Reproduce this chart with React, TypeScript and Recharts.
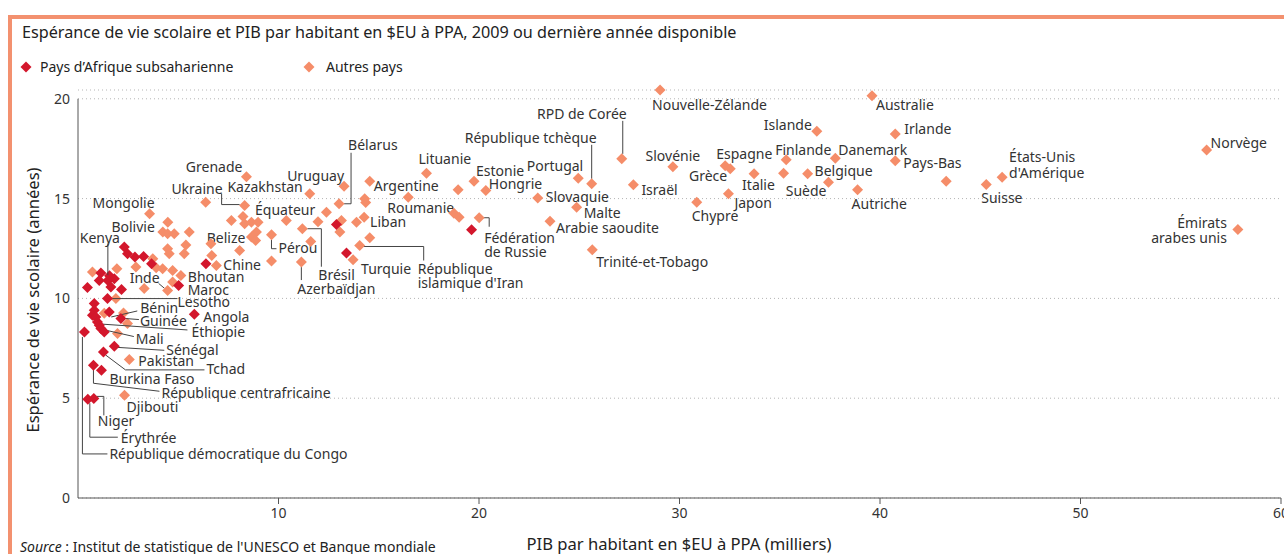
import {
    CartesianGrid,
    ReferenceLine,
    Scatter,
    ScatterChart,
    XAxis,
    YAxis,
} from 'recharts';

const RED = '#d3172c';
const ORANGE = '#f58d69';
const FRAME = '#f3916f';
const INK = '#333333';
const FONT = '"Noto Sans", sans-serif';

// Pays d'Afrique subsaharienne
const africaNames = [
    '', '', '', '', '', '', '', '', '', 'Kenya',
    '', '', '', 'Maroc', '', '', '', '', 'Lesotho', '',
    '', 'Bénin', '', '', 'Guinée', 'Éthiopie', '', 'Mali', '', 'République démocratique du Congo',
    'Sénégal', 'Tchad', 'République centrafricaine', 'Burkina Faso', 'Niger', 'Érythrée', 'Angola',
];
const africaGdp = [
    2.31, 2.47, 2.84, 3.27, 3.67, 1.14, 1.57, 1.81, 1.06, 1.49,
    1.64, 0.47, 2.17, 5.02, 6.38, 12.89, 13.39, 19.63, 1.47, 0.81,
    0.81, 1.56, 0.72, 0.89, 2.14, 0.97, 1.06, 1.14, 1.31, 0.32,
    1.81, 1.27, 0.77, 1.17, 0.79, 0.49, 5.8,
];
const africaSle = [
    12.57, 12.24, 12.07, 12.1, 11.74, 11.27, 11.13, 10.99, 10.9, 10.9,
    10.57, 10.54, 10.44, 10.64, 11.74, 13.7, 12.27, 13.44, 9.99, 9.74,
    9.4, 9.32, 9.15, 9.07, 8.99, 8.82, 8.65, 8.49, 8.32, 8.32,
    7.6, 7.32, 6.65, 6.4, 4.99, 4.95, 9.2,
];

// Autres pays
const otherNames = [
    'Nouvelle-Zélande', 'Australie', 'RPD de Corée', 'République tchèque', 'Portugal',
    'Slovaquie', 'Malte', 'Arabie saoudite', 'Trinité-et-Tobago', 'Israël',
    'Slovénie', 'Espagne', 'Grèce', 'Japon', 'Chypre',
    'Italie', 'Finlande', '', 'Belgique', 'Suède',
    'Danemark', 'Autriche', 'Islande', 'Irlande', 'Pays-Bas',
    '', "États-Unis\nd'Amérique", 'Suisse', 'Norvège', 'Émirats\narabes unis',
    'Lituanie', 'Estonie', 'Hongrie', '', 'Argentine',
    'Roumanie', '', '', 'Fédération\nde Russie', 'Liban',
    "République\nislamique d'Iran", 'Turquie', 'Brésil', 'Azerbaïdjan', 'Pérou',
    '', 'Chine', 'Belize', 'Équateur', 'Grenade',
    'Ukraine', 'Kazakhstan', 'Uruguay', 'Bélarus', 'Bhoutan',
    'Inde', 'Mongolie', 'Bolivie', 'Pakistan', 'Djibouti',
    '', '', '', '', '', '', '', '', '', '',
    '', '', '', '', '', '', '', '', '', '',
    '', '', '', '', '', '', '', '', '', '',
    '', '', '', '', '', '', '', '', '', '',
    '', '',
];
const otherGdp = [
    29.03, 39.6, 27.12, 25.62, 24.95,
    22.93, 24.87, 23.54, 25.65, 27.7,
    29.67, 32.28, 32.53, 32.44, 30.86,
    33.72, 35.32, 35.19, 36.39, 37.43,
    37.77, 38.88, 36.85, 40.76, 40.76,
    43.3, 46.09, 45.3, 56.29, 57.85,
    17.38, 19.75, 20.34, 18.96, 14.55,
    16.47, 18.75, 19.01, 20.01, 14.27,
    14.05, 13.72, 11.19, 11.14, 9.65,
    9.65, 6.9, 8.65, 8.23, 8.4,
    8.31, 11.56, 13.27, 13.02, 5.13,
    4.47, 3.57, 4.23, 2.56, 2.32,
    6.37, 7.65, 8.31, 8.65, 8.98, 8.9, 8.86, 8.06, 6.63, 6.67,
    10.39, 11.97, 11.61, 12.39, 13.14, 13.06, 13.89, 14.3, 14.35, 14.55,
    4.48, 4.47, 4.8, 5.55, 4.47, 4.55, 5.38, 5.3, 1.94, 0.72,
    2.89, 4.22, 4.72, 3.3, 4.72, 1.89, 1.31, 2.27, 2.47, 1.97,
    3.9, 3.73,
];
const otherSle = [
    20.44, 20.15, 16.99, 15.74, 16.02,
    15.03, 14.57, 13.87, 12.44, 15.69,
    16.6, 16.65, 16.49, 15.24, 14.82,
    16.24, 16.95, 16.27, 16.24, 15.82,
    17.02, 15.44, 18.37, 18.24, 16.9,
    15.87, 16.07, 15.7, 17.44, 13.45,
    16.27, 15.87, 15.4, 15.44, 15.87,
    15.07, 14.27, 14.07, 14.04, 14.07,
    12.65, 11.94, 13.49, 11.82, 13.19,
    11.87, 11.65, 13.07, 14.1, 16.1,
    14.65, 15.24, 15.62, 14.74, 11.15,
    10.4, 14.24, 13.32, 6.94, 5.15,
    14.82, 13.9, 13.74, 13.82, 13.82, 13.32, 12.9, 12.4, 12.74, 12.15,
    13.9, 13.84, 12.85, 14.32, 13.9, 13.32, 13.82, 14.99, 14.8, 13.04,
    13.82, 13.24, 13.24, 13.32, 12.49, 12.24, 12.68, 12.24, 11.49, 11.32,
    11.57, 11.49, 11.4, 10.49, 10.82, 9.99, 9.26, 9.27, 8.74, 8.24,
    11.54, 11.99,
];

const xTicks = [10, 20, 30, 40, 50, 60];
const yTicks = [0, 5, 10, 15, 20];

type Place = {
    dx: number;
    dy: number;
    anchor?: 'start' | 'middle' | 'end';
    leader?: number[][];
    gap?: number;
};

// label offsets in pixels, relative to the marker centre
const labelPlaces: Record<string, Place> = {
    'Nouvelle-Zélande': { dx: -8, dy: 14 },
    Australie: { dx: 4, dy: 9 },
    'RPD de Corée': { dx: 5, dy: -45, anchor: 'end', leader: [[1, -38], [1, -5]] },
    'République tchèque': { dx: 5, dy: -46, anchor: 'end', leader: [[0, -39], [0, -5]] },
    Portugal: { dx: 5, dy: -13, anchor: 'end' },
    Slovaquie: { dx: 8, dy: -1 },
    Malte: { dx: 7, dy: 5 },
    'Arabie saoudite': { dx: 6, dy: 6 },
    'Trinité-et-Tobago': { dx: 4, dy: 12 },
    Israël: { dx: 8, dy: 5 },
    Slovénie: { dx: 0, dy: -11, anchor: 'middle' },
    Espagne: { dx: -9, dy: -12 },
    Grèce: { dx: -3, dy: 7, anchor: 'end' },
    Japon: { dx: 6, dy: 9 },
    Chypre: { dx: -5, dy: 13 },
    Italie: { dx: -12, dy: 11 },
    Finlande: { dx: -11, dy: -10 },
    Belgique: { dx: 7, dy: -3 },
    Suède: { dx: -2, dy: 8, anchor: 'end' },
    Danemark: { dx: 3, dy: -9 },
    Autriche: { dx: -6, dy: 14 },
    Islande: { dx: -5, dy: -7, anchor: 'end' },
    Irlande: { dx: 9, dy: -5 },
    'Pays-Bas': { dx: 8, dy: 2 },
    "États-Unis\nd'Amérique": { dx: 7, dy: -21, gap: 16 },
    Suisse: { dx: -5, dy: 13 },
    Norvège: { dx: 4, dy: -7 },
    'Émirats\narabes unis': { dx: -11, dy: -7, anchor: 'end', gap: 15 },
    Lituanie: { dx: -8, dy: -15 },
    Estonie: { dx: 2, dy: -11 },
    Hongrie: { dx: 3, dy: -7 },
    Argentine: { dx: 4, dy: 4 },
    Roumanie: { dx: -21, dy: 10 },
    'Fédération\nde Russie': { dx: 5, dy: 20, gap: 14, leader: [[4, 0], [10, 0], [10, 9]] },
    Liban: { dx: 6, dy: 4 },
    "République\nislamique d'Iran": { dx: 58, dy: 23, gap: 14, leader: [[3, 1], [64, 1], [64, 15]] },
    Turquie: { dx: 8, dy: 9 },
    Brésil: { dx: 16, dy: 46, leader: [[5, 0], [19, 0], [19, 38]] },
    Azerbaïdjan: { dx: -4, dy: 26, leader: [[0, 5], [0, 18]] },
    Pérou: { dx: 7, dy: 13, leader: [[0, 5], [0, 14], [5, 14]] },
    Chine: { dx: 7, dy: -1 },
    Belize: { dx: -6, dy: 0, anchor: 'end' },
    Équateur: { dx: 12, dy: -7 },
    Grenade: { dx: -4, dy: -10, anchor: 'end' },
    Ukraine: { dx: -22, dy: -17, anchor: 'end', leader: [[-23, -12], [-23, -1], [-5, -1]] },
    Kazakhstan: { dx: -7, dy: -7, anchor: 'end' },
    Uruguay: { dx: 0, dy: -11, anchor: 'end' },
    Bélarus: { dx: 9, dy: -59, leader: [[12, -51], [12, 0], [5, 0]] },
    Bhoutan: { dx: 7, dy: 1 },
    Inde: { dx: -8, dy: -13, anchor: 'end', leader: [[-3, -2], [-9, -7]] },
    Mongolie: { dx: 5, dy: -11, anchor: 'end' },
    Bolivie: { dx: -8, dy: -6, anchor: 'end' },
    Pakistan: { dx: 9, dy: 1 },
    Djibouti: { dx: 2, dy: 11 },
    Kenya: { dx: -8, dy: -43, anchor: 'middle', leader: [[0, -37], [0, -5]] },
    Maroc: { dx: 9, dy: 4 },
    Lesotho: { dx: 70, dy: 3, leader: [[3, 0], [70, 0]] },
    Bénin: { dx: 31, dy: -4, leader: [[2, 5], [28, -1]] },
    Guinée: { dx: 19, dy: 2, leader: [[5, 0], [18, 1]] },
    Éthiopie: { dx: 94, dy: 10, leader: [[2, 2], [90, 8]] },
    Mali: { dx: 35, dy: 10, leader: [[2, 1], [33, 8]] },
    'République démocratique du Congo': { dx: 25, dy: 122, leader: [[-2, 5], [-2, 122], [23, 122]] },
    Sénégal: { dx: 52, dy: 3, leader: [[2, 1], [50, 4]] },
    Tchad: { dx: 103, dy: 17, leader: [[2, 3], [22, 18], [101, 18]] },
    'République centrafricaine': { dx: 68, dy: 27, leader: [[0, 2], [0, 18], [66, 26]] },
    'Burkina Faso': { dx: 8, dy: 8 },
    Niger: { dx: 4, dy: 22, leader: [[3, -2], [10, -2], [10, 17]] },
    Érythrée: { dx: 33, dy: 38, leader: [[2, 4], [2, 38], [30, 38]] },
    Angola: { dx: 9, dy: 2 },
};

const africaData = africaNames.map((name, i) => ({ name, gdp: africaGdp[i], sle: africaSle[i] }));
const otherData = otherNames.map((name, i) => ({ name, gdp: otherGdp[i], sle: otherSle[i] }));

function makeMarker(color: string) {
    return (props: any) => {
        const { cx, cy, payload } = props;
        if (cx == null || cy == null) return <g />;
        const r = 5.5;
        const place = payload?.name ? labelPlaces[payload.name] : undefined;
        const lines: string[] = payload?.name ? payload.name.split('\n') : [];
        return (
            <g>
                {place?.leader && (
                    <polyline
                        points={place.leader.map(([x, y]) => `${cx + x},${cy + y}`).join(' ')}
                        fill="none"
                        stroke="#444"
                        strokeWidth={1}
                    />
                )}
                <polygon
                    points={`${cx},${cy - r} ${cx + r},${cy} ${cx},${cy + r} ${cx - r},${cy}`}
                    fill={color}
                />
                {place &&
                    lines.map((line, i) => (
                        <text
                            key={i}
                            x={cx + place.dx}
                            y={cy + place.dy + i * (place.gap ?? 15)}
                            textAnchor={place.anchor ?? 'start'}
                            dominantBaseline="central"
                            fontSize={14}
                            fontFamily={FONT}
                            fill={INK}
                        >
                            {line}
                        </text>
                    ))}
            </g>
        );
    };
}

const Diamond = ({ color }: { color: string }) => (
    <svg width={12} height={12} style={{ display: 'block' }}>
        <polygon points="6,0.5 11.5,6 6,11.5 0.5,6" fill={color} />
    </svg>
);

export default function App() {
    return (
        <div
            style={{
                position: 'absolute',
                left: 0,
                top: 0,
                width: 1284,
                height: 554,
                overflow: 'hidden',
                background: '#fff',
                fontFamily: FONT,
                color: '#222',
            }}
        >
            <div
                style={{
                    position: 'absolute',
                    left: 8,
                    top: 15,
                    width: 1300,
                    height: 600,
                    borderLeft: `4px solid ${FRAME}`,
                    borderTop: `4px solid ${FRAME}`,
                }}
            />
            <div
                style={{
                    position: 'absolute',
                    left: 22,
                    top: 22,
                    fontSize: 16.2,
                    lineHeight: '20px',
                    whiteSpace: 'nowrap',
                }}
            >
                Espérance de vie scolaire et PIB par habitant en $EU à PPA, 2009 ou dernière année disponible
            </div>
            <div style={{ position: 'absolute', left: 20, top: 57, display: 'flex', alignItems: 'center', fontSize: 14 }}>
                <Diamond color={RED} />
                <span style={{ marginLeft: 8 }}>Pays d’Afrique subsaharienne</span>
            </div>
            <div style={{ position: 'absolute', left: 303, top: 57, display: 'flex', alignItems: 'center', fontSize: 14 }}>
                <Diamond color={ORANGE} />
                <span style={{ marginLeft: 11 }}>Autres pays</span>
            </div>
            <div
                style={{
                    position: 'absolute',
                    left: 33,
                    top: 300,
                    transform: 'translate(-50%, -50%) rotate(-90deg)',
                    fontSize: 16.6,
                    lineHeight: '20px',
                    whiteSpace: 'nowrap',
                }}
            >
                Espérance de vie scolaire (années)
            </div>
            <div
                style={{
                    position: 'absolute',
                    left: 679,
                    top: 544,
                    transform: 'translate(-50%, -50%)',
                    fontSize: 16.6,
                    lineHeight: '18px',
                    whiteSpace: 'nowrap',
                }}
            >
                PIB par habitant en $EU à PPA (milliers)
            </div>
            <div
                style={{
                    position: 'absolute',
                    left: 20,
                    top: 539,
                    fontSize: 14,
                    lineHeight: '15px',
                    whiteSpace: 'nowrap',
                }}
            >
                <i>Source</i> : Institut de statistique de l'UNESCO et Banque mondiale
            </div>
            <div style={{ position: 'absolute', left: 0, top: 0 }}>
                <ScatterChart
                    width={1284}
                    height={554}
                    margin={{ top: 90, right: 3, bottom: 26, left: 0 }}
                >
                    <CartesianGrid vertical={false} stroke="#b5b5b5" strokeDasharray="1 3" />
                    <XAxis
                        type="number"
                        dataKey="gdp"
                        domain={[0, 60]}
                        ticks={xTicks}
                        interval={0}
                        height={30}
                        tickSize={6}
                        tickMargin={4}
                        axisLine={{ stroke: '#555' }}
                        tickLine={{ stroke: '#555' }}
                        tick={{ fontSize: 14, fill: INK, fontFamily: FONT }}
                    />
                    <YAxis
                        type="number"
                        dataKey="sle"
                        domain={[0, 20.4]}
                        ticks={yTicks}
                        interval={0}
                        width={78}
                        axisLine={false}
                        tickLine={false}
                        tick={{ fontSize: 14, fill: INK, fontFamily: FONT }}
                    />
                    <ReferenceLine
                        segment={[{ x: 0, y: 0 }, { x: 0, y: 20 }]}
                        stroke="#555"
                        strokeWidth={1}
                    />
                    <Scatter
                        data={otherData}
                        shape={makeMarker(ORANGE)}
                        isAnimationActive={false}
                    />
                    <Scatter
                        data={africaData}
                        shape={makeMarker(RED)}
                        isAnimationActive={false}
                    />
                </ScatterChart>
            </div>
        </div>
    );
}
